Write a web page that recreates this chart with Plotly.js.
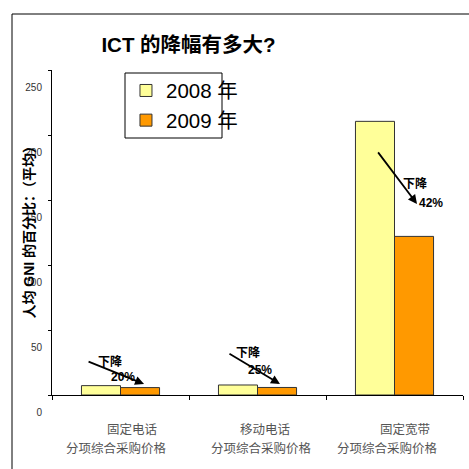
<!DOCTYPE html>
<html>
<head>
<meta charset="utf-8">
<script src="https://cdn.plot.ly/plotly-3.0.1.min.js"></script>
<style>html,body{margin:0;padding:0;background:#fff}#chart{width:469px;height:469px}</style>
</head>
<body>
<div id="chart"></div>
<script>
// ---- data ----
var categories = ['固定电话', '移动电话', '固定宽带'];
var subLabel = '分项综合采购价格';
var seriesNames = ['2008 年', '2009 年'];
var values2008 = [7.2, 7.7, 210.5];
var values2009 = [5.7, 5.8, 122];
var dropLabels = ['20%', '25%', '42%'];
var yTicks = [0, 50, 100, 150, 200, 250];

var FONT = 'Liberation Sans, Arial, Noto Sans CJK SC, sans-serif';

var traces = [
  {type: 'bar', name: seriesNames[0], x: categories, y: values2008,
   marker: {color: '#FFFF99', line: {color: '#333333', width: 1}}, hoverinfo: 'none'},
  {type: 'bar', name: seriesNames[1], x: categories, y: values2009,
   marker: {color: '#FF9900', line: {color: '#333333', width: 1}}, hoverinfo: 'none'}
];

var ann = [];
// category labels (two lines)
var line1Shift = [11, 7, 10];
var line2Shift = [-4, 4, -7];
categories.forEach(function (c, i) {
  ann.push({x: i, xref: 'x', y: -(428.5 - 395) / 325, yref: 'paper', yanchor: 'middle', text: c,
    showarrow: false, xshift: line1Shift[i],
    font: {family: 'Noto Sans CJK SC', size: 12.5, color: '#555'}});
  ann.push({x: i, xref: 'x', y: -(447 - 395) / 325, yref: 'paper', yanchor: 'middle', text: subLabel,
    showarrow: false, xshift: line2Shift[i],
    font: {family: 'Noto Sans CJK SC', size: 12.5, color: '#555'}});
});
// arrows and drop labels
var arrowHeads = [[0.172, 8.5], [1.164, 8.5], [2.164, 147]];
var arrowTails = [[-57, -23], [-52, -31], [-40, -53]];
var xiangPos = [[-0.077, 26], [0.93, 33], [2.15, 163]];
var pctPos = [[0.018, 13.8], [1.018, 19], [2.27, 148]];
for (var i = 0; i < 3; i++) {
  ann.push({x: arrowHeads[i][0], y: arrowHeads[i][1], xref: 'x', yref: 'y', text: '',
    showarrow: true, ax: arrowTails[i][0], ay: arrowTails[i][1], arrowhead: 2,
    arrowsize: 1, arrowwidth: 1.8, arrowcolor: '#000'});
  ann.push({x: xiangPos[i][0], y: xiangPos[i][1], xref: 'x', yref: 'y', text: '<b>下降</b>',
    showarrow: false, font: {family: FONT, size: 12, color: '#000'}});
  ann.push({x: pctPos[i][0], y: pctPos[i][1], xref: 'x', yref: 'y', text: '<b>' + dropLabels[i] + '</b>',
    showarrow: false, font: {family: FONT, size: 12, color: '#000'}});
}
// y axis title
ann.push({x: -0.056, xref: 'paper', xanchor: 'center', y: 0.512, yref: 'paper', yanchor: 'middle',
  textangle: -90, showarrow: false,
  text: '<b>人均 GNI 的百分比：（平均）</b>', font: {family: FONT, size: 14, color: '#000'}});

var layout = {
  width: 469, height: 469,
  margin: {l: 52, r: 6, t: 70, b: 74},
  paper_bgcolor: '#fff', plot_bgcolor: 'rgba(0,0,0,0)',
  title: {text: '<b>ICT 的降幅有多大?</b>', x: 188.5 / 469, xref: 'container', xanchor: 'center',
    y: 1 - 45 / 469, yref: 'container', yanchor: 'middle',
    font: {family: FONT, size: 20.5, color: '#000'}},
  barmode: 'group', bargap: 0.43, bargroupgap: 0,
  showlegend: true,
  legend: {x: 0.18, xanchor: 'left', y: 0.998, yanchor: 'top', bgcolor: 'rgba(0,0,0,0)',
    borderwidth: 0, font: {family: FONT, size: 20.5, color: '#000'}, tracegroupgap: 0,
    itemclick: false, itemdoubleclick: false},
  xaxis: {type: 'category', categoryorder: 'array', categoryarray: categories, range: [-0.5, 2.5],
    showline: true, linecolor: '#000', linewidth: 1, ticks: 'outside', ticklen: 4, tickcolor: '#000',
    tickson: 'boundaries', showticklabels: false, showgrid: false, zeroline: false, fixedrange: true},
  xaxis2: {type: 'category', categoryorder: 'array', categoryarray: categories, range: [-0.5, 2.5],
    overlaying: 'x', side: 'bottom', showline: false, ticks: 'inside', ticklen: 4, tickcolor: '#000',
    tickson: 'boundaries', showticklabels: false, showgrid: false, zeroline: false, fixedrange: true},
  yaxis: {range: [0, 250], tickvals: yTicks, ticktext: yTicks.map(String), showline: true, linecolor: '#000',
    linewidth: 1, ticks: 'outside', ticklen: 3, tickcolor: '#000', showgrid: false, zeroline: false,
    ticklabelshift: 17, ticklabelstandoff: 4,
    tickfont: {family: FONT, size: 10, color: '#333'}, fixedrange: true},
  yaxis2: {range: [0, 250], tickvals: yTicks, overlaying: 'y', side: 'left', showline: false,
    ticks: 'inside', ticklen: 3, tickcolor: '#000', showticklabels: false, showgrid: false,
    zeroline: false, fixedrange: true},
  shapes: [
    {type: 'rect', xref: 'paper', yref: 'paper', x0: (125 - 52) / 411, x1: (222 - 52) / 411,
     y0: (395 - 138) / 325, y1: (395 - 73) / 325, line: {color: '#000', width: 1}},
    {type: 'rect', xref: 'paper', yref: 'paper', x0: (12 - 52) / 411, x1: 2,
     y0: -1, y1: (395 - 14) / 325, line: {color: '#000', width: 1}}
  ],
  annotations: ann
};

Plotly.newPlot('chart', traces, layout, {displayModeBar: false, staticPlot: true});
</script>
</body>
</html>
